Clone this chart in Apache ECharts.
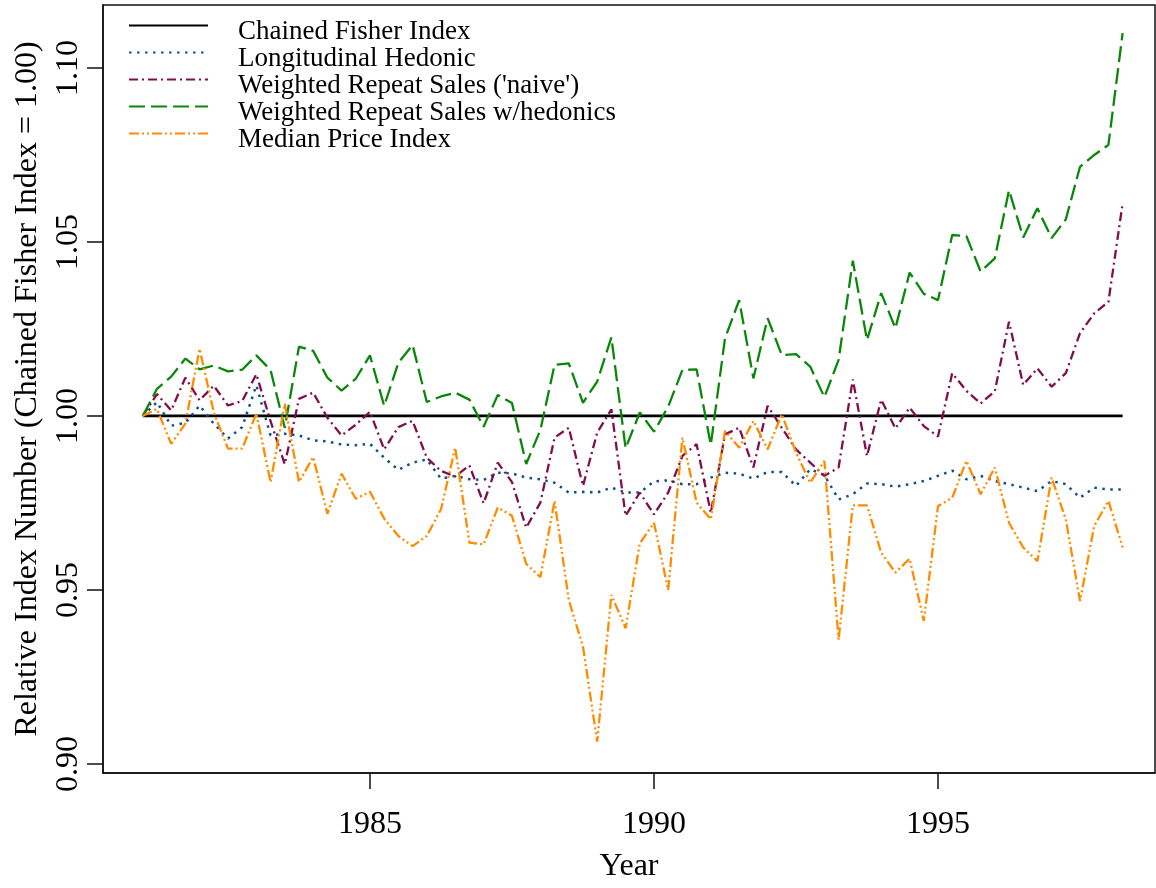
<!DOCTYPE html>
<html>
<head>
<meta charset="utf-8">
<script src="https://cdn.jsdelivr.net/npm/echarts@6/dist/echarts.min.js"></script>
<style>
html,body{margin:0;padding:0;background:#fff;}
#chart{width:1156px;height:888px;}
</style>
</head>
<body>
<div id="chart"></div>
<script>
const quarters = [
1981.00,1981.25,1981.50,1981.75,1982.00,1982.25,1982.50,1982.75,1983.00,1983.25,
1983.50,1983.75,1984.00,1984.25,1984.50,1984.75,1985.00,1985.25,1985.50,1985.75,
1986.00,1986.25,1986.50,1986.75,1987.00,1987.25,1987.50,1987.75,1988.00,1988.25,
1988.50,1988.75,1989.00,1989.25,1989.50,1989.75,1990.00,1990.25,1990.50,1990.75,
1991.00,1991.25,1991.50,1991.75,1992.00,1992.25,1992.50,1992.75,1993.00,1993.25,
1993.50,1993.75,1994.00,1994.25,1994.50,1994.75,1995.00,1995.25,1995.50,1995.75,
1996.00,1996.25,1996.50,1996.75,1997.00,1997.25,1997.50,1997.75,1998.00,1998.25];

const chainedFisher = [
1.00,1.00,1.00,1.00,1.00,1.00,1.00,1.00,1.00,1.00,
1.00,1.00,1.00,1.00,1.00,1.00,1.00,1.00,1.00,1.00,
1.00,1.00,1.00,1.00,1.00,1.00,1.00,1.00,1.00,1.00,
1.00,1.00,1.00,1.00,1.00,1.00,1.00,1.00,1.00,1.00,
1.00,1.00,1.00,1.00,1.00,1.00,1.00,1.00,1.00,1.00,
1.00,1.00,1.00,1.00,1.00,1.00,1.00,1.00,1.00,1.00,
1.00,1.00,1.00,1.00,1.00,1.00,1.00,1.00,1.00,1.00];

const longitudinalHedonic = [
1.0000,1.0040,0.9972,0.9980,1.0030,0.9978,0.9935,0.9968,1.0088,0.9944,
0.9949,0.9944,0.9930,0.9927,0.9918,0.9916,0.9920,0.9880,0.9845,0.9866,
0.9875,0.9820,0.9828,0.9818,0.9816,0.9837,0.9835,0.9823,0.9818,0.9808,
0.9780,0.9782,0.9780,0.9794,0.9780,0.9780,0.9812,0.9815,0.9804,0.9804,
0.9823,0.9837,0.9834,0.9820,0.9839,0.9839,0.9799,0.9847,0.9830,0.9760,
0.9775,0.9806,0.9804,0.9797,0.9804,0.9813,0.9828,0.9843,0.9818,0.9828,
0.9813,0.9804,0.9794,0.9784,0.9813,0.9804,0.9765,0.9794,0.9789,0.9789];

const wrsNaive = [
1.0000,1.0063,1.0016,1.0110,1.0045,1.0087,1.0030,1.0043,1.0120,0.9985,
0.9861,1.0049,1.0067,0.9995,0.9944,0.9975,1.0012,0.9904,0.9968,0.9986,
0.9880,0.9842,0.9826,0.9858,0.9749,0.9866,0.9810,0.9679,0.9751,0.9938,
0.9966,0.9799,0.9952,1.0019,0.9713,0.9780,0.9717,0.9780,0.9885,0.9919,
0.9722,0.9947,0.9966,0.9852,1.0029,0.9966,0.9904,0.9866,0.9828,0.9852,
1.0105,0.9885,1.0047,0.9964,1.0024,0.9971,0.9941,1.0123,1.0072,1.0036,
1.0071,1.0271,1.0089,1.0137,1.0084,1.0123,1.0238,1.0295,1.0328,1.0611];

const wrsHedonic = [
1.0000,1.0078,1.0113,1.0165,1.0134,1.0145,1.0128,1.0133,1.0174,1.0132,
0.9966,1.0199,1.0187,1.0110,1.0073,1.0107,1.0174,1.0029,1.0153,1.0204,
1.0040,1.0056,1.0067,1.0047,0.9969,1.0060,1.0037,0.9862,0.9960,1.0147,
1.0151,1.0038,1.0099,1.0226,0.9907,1.0010,0.9955,1.0027,1.0132,1.0134,
0.9917,1.0223,1.0333,1.0108,1.0281,1.0175,1.0178,1.0142,1.0054,1.0161,
1.0446,1.0218,1.0353,1.0252,1.0412,1.0351,1.0333,1.0520,1.0517,1.0415,
1.0453,1.0649,1.0513,1.0597,1.0511,1.0565,1.0716,1.0750,1.0779,1.1100];

const medianPrice = [
1.0000,1.0020,0.9920,0.9978,1.0193,1.0010,0.9906,0.9906,1.0007,0.9810,
1.0035,0.9810,0.9882,0.9719,0.9834,0.9762,0.9782,0.9705,0.9655,0.9626,
0.9655,0.9732,0.9909,0.9636,0.9631,0.9737,0.9713,0.9575,0.9537,0.9756,
0.9471,0.9337,0.9064,0.9486,0.9390,0.9634,0.9693,0.9500,0.9938,0.9751,
0.9703,0.9957,0.9909,0.9986,0.9904,1.0005,0.9895,0.9808,0.9871,0.9356,
0.9743,0.9743,0.9607,0.9550,0.9590,0.9411,0.9741,0.9765,0.9871,0.9775,
0.9852,0.9693,0.9622,0.9583,0.9823,0.9703,0.9468,0.9684,0.9756,0.9622];

const seriesNames = [
  'Chained Fisher Index',
  'Longitudinal Hedonic',
  "Weighted Repeat Sales ('naive')",
  'Weighted Repeat Sales w/hedonics',
  'Median Price Index'
];
const xTicks = [1985, 1990, 1995];
const yTicks = [0.90, 0.95, 1.00, 1.05, 1.10];

const pair = arr => quarters.map((q, i) => [q, arr[i]]);
const FONT = 'Liberation Serif';

const legendBase = {
  orient: 'vertical',
  left: 128,
  padding: 0,
  itemWidth: 79, itemHeight: 14, itemGap: 0,
  selectedMode: false,
  data: seriesNames,
  itemStyle: {color: 'transparent', borderColor: 'transparent', borderWidth: 0, opacity: 0}
};

const chart = echarts.init(document.getElementById('chart'), null, {renderer: 'canvas'});
chart.setOption({
  animation: false,
  backgroundColor: '#fff',
  textStyle: {fontFamily: FONT},
  grid: {
    left: 103, right: 1, top: 5, bottom: 114,
    show: true, borderColor: '#111', borderWidth: 1.5, backgroundColor: 'transparent'
  },
  legend: [
    Object.assign({}, legendBase, {
      top: 12,
      textStyle: {fontFamily: FONT, fontSize: 27, color: 'transparent', lineHeight: 27, padding: [0, 0, 0, 25]}
    }),
    Object.assign({}, legendBase, {
      top: 18,
      lineStyle: {opacity: 0},
      textStyle: {fontFamily: FONT, fontSize: 27, color: '#000', lineHeight: 27, padding: [0, 0, 0, 25]}
    })
  ],
  xAxis: {
    type: 'value', min: 1980.30, max: 1998.82,
    name: 'Year', nameLocation: 'middle', nameGap: 78,
    nameTextStyle: {fontFamily: FONT, fontSize: 32, color: '#000'},
    axisLine: {show: true, lineStyle: {color: '#111', width: 1.5}},
    axisTick: {show: true, customValues: xTicks, length: 16, lineStyle: {color: '#111', width: 1.5}},
    axisLabel: {customValues: xTicks, fontFamily: FONT, fontSize: 32, color: '#000', margin: 36,
      formatter: v => String(Math.round(v))},
    splitLine: {show: false}
  },
  yAxis: {
    type: 'value', min: 0.8974, max: 1.1181,
    name: 'Relative Index Number (Chained Fisher Index = 1.00)',
    nameLocation: 'middle', nameGap: 59,
    nameTextStyle: {fontFamily: FONT, fontSize: 32, color: '#000'},
    axisLine: {show: true, lineStyle: {color: '#111', width: 1.5}},
    axisTick: {show: true, customValues: yTicks, length: 16, lineStyle: {color: '#111', width: 1.5}},
    axisLabel: {customValues: yTicks, rotate: 90, fontFamily: FONT, fontSize: 32, color: '#000', margin: 18,
      formatter: v => v.toFixed(2)},
    splitLine: {show: false}
  },
  series: [
    {name: seriesNames[0], type: 'line', data: pair(chainedFisher), symbol: 'none', z: 2,
      lineStyle: {color: '#000', width: 2.8, type: 'solid'}, itemStyle: {color: '#000'}},
    {name: seriesNames[1], type: 'line', data: pair(longitudinalHedonic), symbol: 'none', z: 3,
      lineStyle: {color: '#104E8B', width: 2.5, type: [2.5, 5.5]}, itemStyle: {color: '#104E8B'}},
    {name: seriesNames[2], type: 'line', data: pair(wrsNaive), symbol: 'none', z: 4,
      lineStyle: {color: '#7E0F4C', width: 2.3, type: [9, 4, 2, 4]}, itemStyle: {color: '#7E0F4C'}},
    {name: seriesNames[3], type: 'line', data: pair(wrsHedonic), symbol: 'none', z: 5,
      lineStyle: {color: '#0A870A', width: 2.3, type: [16, 6]}, itemStyle: {color: '#0A870A'}},
    {name: seriesNames[4], type: 'line', data: pair(medianPrice), symbol: 'none', z: 6,
      lineStyle: {color: '#FF8C00', width: 2.3, type: [10, 3, 2, 3, 2, 3]}, itemStyle: {color: '#FF8C00'}}
  ]
});
</script>
</body>
</html>
